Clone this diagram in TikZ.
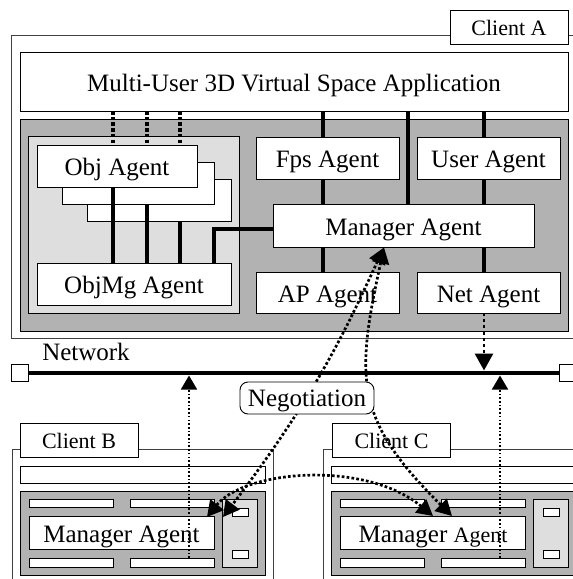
\documentclass[tikz,border=0pt]{standalone}
\usepackage{fontspec}
\setmainfont{Liberation Serif}
\usetikzlibrary{arrows.meta,calc}
\definecolor{dgray}{RGB}{178,178,178}
\definecolor{lgray}{RGB}{222,222,222}
\begin{document}
\begin{tikzpicture}[x=1pt,y=-1pt,
  plain/.style={draw, fill=white, line width=0.9pt, inner sep=0pt, outer sep=0pt},
  bx/.style={plain, font=\fontsize{25}{28}\selectfont, text height=19pt, text depth=0pt},
  tabbox/.style={plain, font=\fontsize{22}{26}\selectfont, text height=16pt, text depth=0pt},
  outerbox/.style={draw=black!75, line width=0.8pt},
  panel/.style={draw, fill=dgray, line width=0.9pt},
  lpanel/.style={draw, fill=lgray, line width=0.9pt},
  bar/.style={line width=3.3pt},
  dotbar/.style={line width=3.3pt, dash pattern=on 3.5pt off 2.2pt},
  negdot/.style={line width=2.7pt, dash pattern=on 2.7pt off 2.2pt},
  meddot/.style={line width=2.9pt, dash pattern=on 2.9pt off 3.3pt},
  thindot/.style={line width=1.6pt, dash pattern=on 1.6pt off 2.1pt},
  tipbig/.tip={Triangle[width=17pt,length=16pt]}
]
\useasboundingbox (0,0) rectangle (573,579);
\clip (0,0) rectangle (573,579);

% ---------- Client A ----------
\draw[outerbox] (11.7,35) rectangle (640,338);
\node[tabbox, minimum width=118pt, minimum height=34pt] (tabA) at (509,27) {Client A};
\node[bx, minimum width=548pt, minimum height=59pt] (app) at (294,81.5) {Multi-User 3D Virtual Space Application};
\draw[panel] (20,119) rectangle (568,331);
\draw[lpanel] (28,136) rectangle (239,313);
\node[plain, minimum width=144pt, minimum height=42pt] (obj3) at (159,200) {};
\node[plain, minimum width=152pt, minimum height=42pt] (obj2) at (138,183) {};
\node[bx, minimum width=160pt, minimum height=42pt] (obj1) at (117,166) {Obj Agent};
\node[bx, minimum width=194pt, minimum height=42pt] (objmg) at (134,284) {ObjMg Agent};
\node[bx, minimum width=143pt, minimum height=42pt] (fps) at (327.5,158) {Fps Agent};
\node[bx, minimum width=143pt, minimum height=42pt] (user) at (488.5,158) {User Agent};
\node[bx, minimum width=261pt, minimum height=43pt] (mgrA) at (403.5,225.5) {Manager Agent};
\node[bx, minimum width=143pt, minimum height=41pt] (ap) at (327.5,292.5) {AP Agent};
\node[bx, minimum width=143pt, minimum height=41pt] (net) at (488.5,292.5) {Net Agent};

\coordinate (xD1) at (113,0);
\coordinate (xD2) at (147,0);
\coordinate (xD3) at (180,0);
\coordinate (xL4) at (214,0);
\coordinate (xL1) at (323,0);
\coordinate (xL2) at (408,0);
\coordinate (xL3) at (484,0);

\draw[dotbar] (app.south -| xD1) -- (obj1.north -| xD1);
\draw[dotbar] (app.south -| xD2) -- (obj1.north -| xD2);
\draw[dotbar] (app.south -| xD3) -- (obj1.north -| xD3);
\draw[bar] (obj1.south -| xD1) -- (objmg.north -| xD1);
\draw[bar] (obj2.south -| xD2) -- (objmg.north -| xD2);
\draw[bar] (obj3.south -| xD3) -- (objmg.north -| xD3);
\draw[bar] (objmg.north -| xL4) |- ([yshift=-3.5pt]mgrA.west);

\draw[bar] (app.south -| xL1) -- (fps.north -| xL1);
\draw[bar] (fps.south -| xL1) -- (mgrA.north -| xL1);
\draw[bar] (mgrA.south -| xL1) -- (ap.north -| xL1);
\draw[bar] (app.south -| xL2) -- (mgrA.north -| xL2);
\draw[bar] (app.south -| xL3) -- (user.north -| xL3);
\draw[bar] (user.south -| xL3) -- (mgrA.north -| xL3);
\draw[bar] (mgrA.south -| xL3) -- (net.north -| xL3);

% ---------- Network ----------
\node[plain, minimum width=17pt, minimum height=17pt] (lsq) at (20.4,373) {};
\node[plain, minimum width=17pt, minimum height=17pt] (rsq) at (567.5,373) {};
\draw[line width=4.7pt] (lsq) -- (rsq);
\node[font=\fontsize{25}{28}\selectfont, inner sep=0pt] (netlbl) at (86,352) {Network};

% ---------- Client B ----------
\draw[outerbox] (12,449) rectangle (273,640);
\node[tabbox, minimum width=118pt, minimum height=34pt] (tabB) at (79,440) {Client B};
\node[plain, minimum width=245pt, minimum height=17pt] (appB) at (142.5,474.5) {};
\draw[panel] (20,491) rectangle (265,575);
\node[plain, minimum width=84pt, minimum height=8pt] (barB1) at (71,503) {};
\node[plain, minimum width=84pt, minimum height=8pt] (barB2) at (172,503) {};
\node[plain, minimum width=84pt, minimum height=9pt] (barB3) at (71,562.5) {};
\node[plain, minimum width=84pt, minimum height=9pt] (barB4) at (172,562.5) {};
\node[bx, minimum width=185pt, minimum height=33pt] (mgrB) at (121.5,532.5) {Manager Agent};
\draw[lpanel] (222,499) rectangle (257,567);
\node[plain, minimum width=16pt, minimum height=8pt] (sB1) at (240,512) {};
\node[plain, minimum width=16pt, minimum height=8pt] (sB2) at (240,554) {};

% ---------- Client C ----------
\begin{scope}[xshift=311.5pt]
\draw[outerbox] (12,449) rectangle (320,640);
\node[tabbox, minimum width=118pt, minimum height=34pt] (tabC) at (80,440) {Client C};
\node[plain, minimum width=245pt, minimum height=17pt] (appC) at (142.5,474.5) {};
\draw[panel] (20,491) rectangle (265,575);
\node[plain, minimum width=84pt, minimum height=8pt] (barC1) at (71,503) {};
\node[plain, minimum width=84pt, minimum height=8pt] (barC2) at (172,503) {};
\node[plain, minimum width=84pt, minimum height=9pt] (barC3) at (71,562.5) {};
\node[plain, minimum width=84pt, minimum height=9pt] (barC4) at (172,562.5) {};
\node[bx, minimum width=185pt, minimum height=33pt] (mgrC) at (121.5,532.5) {Manager {\fontsize{22}{26}\selectfont Agent}};
\draw[lpanel] (222,499) rectangle (257,567);
\node[plain, minimum width=16pt, minimum height=8pt] (sC1) at (240,512) {};
\node[plain, minimum width=16pt, minimum height=8pt] (sC2) at (240,554) {};
\end{scope}

% ---------- arrows ----------
\coordinate (netTip) at (484,370.5);
\draw[meddot, -{Triangle[width=18pt,length=17pt]}] (net.south -| netTip) -- (netTip);
\coordinate (upBt) at (189,375.5);
\draw[thindot, -{Triangle[width=16pt,length=14pt]}] (barB4.north -| upBt) -- (upBt);
\coordinate (upCt) at (500,375.5);
\draw[thindot, -{Triangle[width=16pt,length=14pt]}] (barC4.north -| upCt) -- (upCt);

\coordinate (tA) at (384,247.5);
\coordinate (tB1) at (223,517);
\coordinate (tB2) at (207,517);
\coordinate (tC1) at (433,516);
\coordinate (tC2) at (452,516);
\draw[negdot, tipbig-tipbig] (tA) .. controls (350,320) and (320,390) .. (tB1);
\draw[negdot, tipbig-tipbig] (tA) .. controls (355,380) and (355,420) .. (tC2);
\draw[negdot, tipbig-tipbig] (tB2) .. controls (245,470) and (365,460) .. (tC1);

\node[bx, rounded corners=8pt, minimum width=134pt, minimum height=32pt, text height=17.4pt] (neg) at (307,398) {Negotiation};
\end{tikzpicture}
\end{document}
